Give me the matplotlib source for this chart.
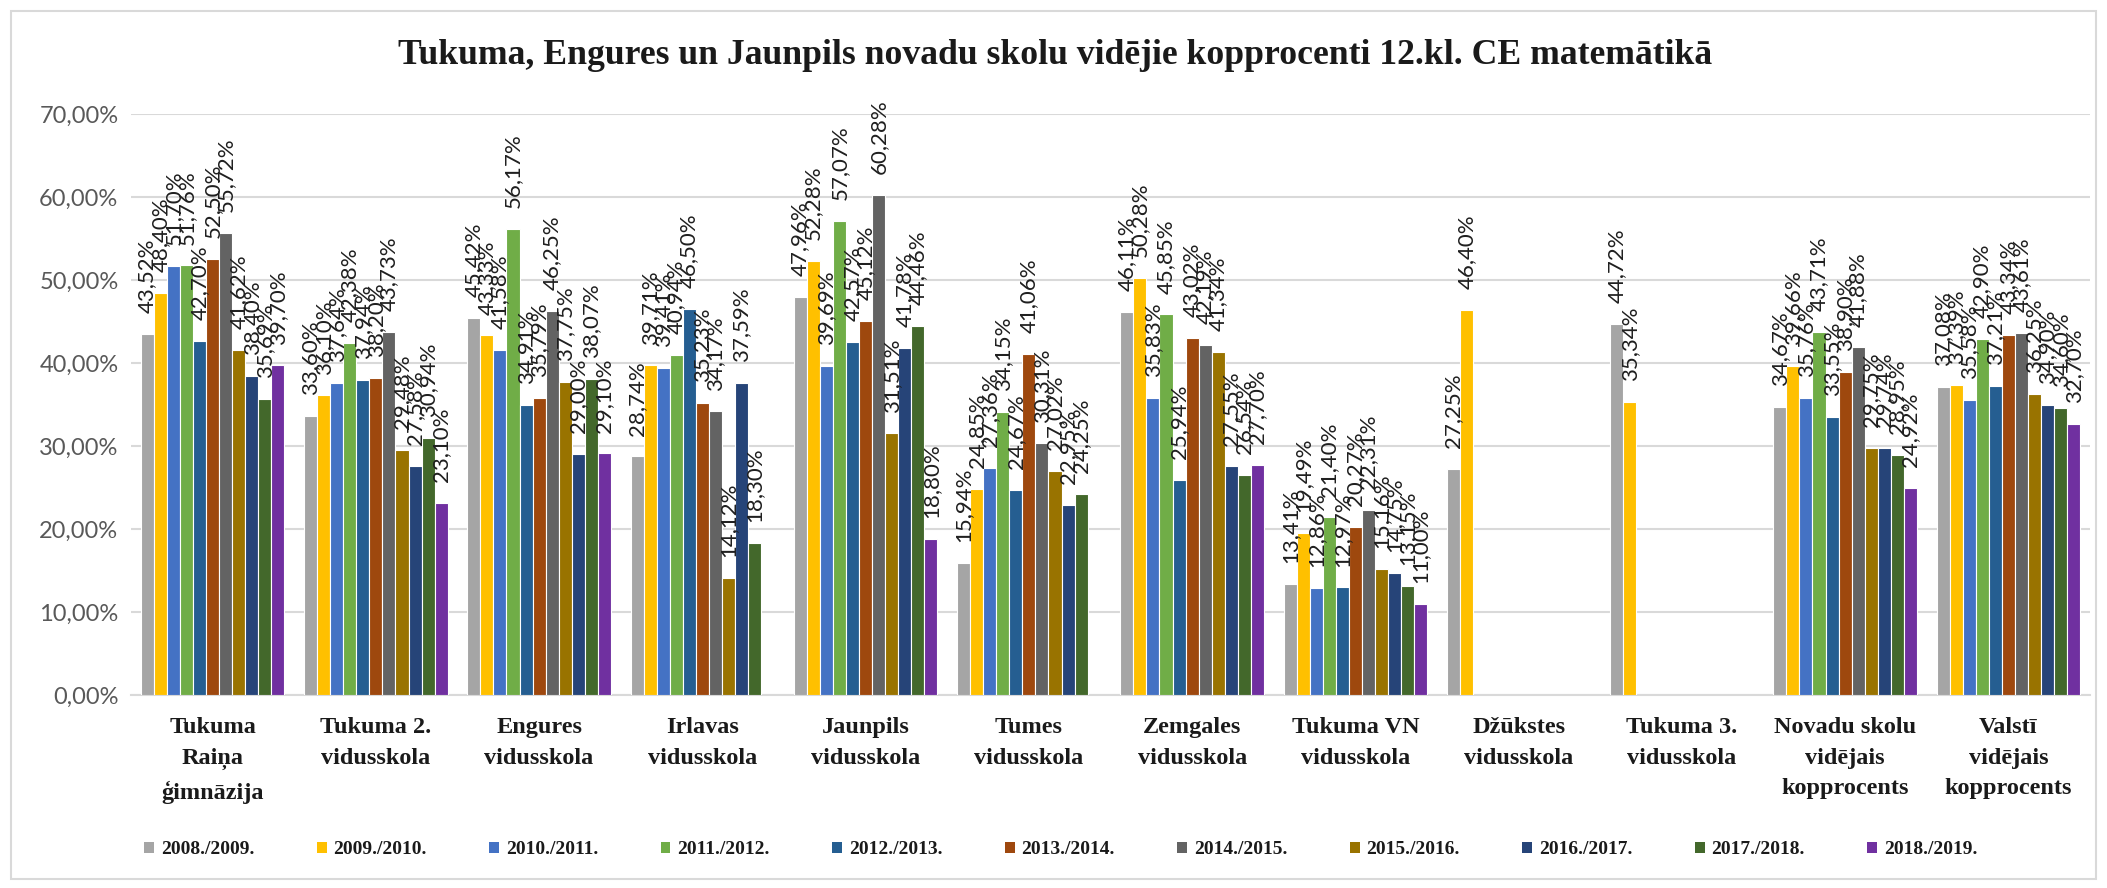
import numpy as np
import matplotlib
matplotlib.use('Agg')
import matplotlib.pyplot as plt
from matplotlib.patches import Rectangle, Patch
from matplotlib.ticker import FuncFormatter, MultipleLocator

nan = np.nan

title = "Tukuma, Engures un Jaunpils novadu skolu vidējie kopprocenti 12.kl. CE matemātikā"

categories = ["Tukuma\nRaiņa\nģimnāzija", "Tukuma 2.\nvidusskola", "Engures\nvidusskola",
              "Irlavas\nvidusskola", "Jaunpils\nvidusskola", "Tumes\nvidusskola",
              "Zemgales\nvidusskola", "Tukuma VN\nvidusskola", "Džūkstes\nvidusskola",
              "Tukuma 3.\nvidusskola", "Novadu skolu\nvidējais\nkopprocents",
              "Valstī\nvidējais\nkopprocents"]

years = ["2008./2009.", "2009./2010.", "2010./2011.", "2011./2012.", "2012./2013.",
         "2013./2014.", "2014./2015.", "2015./2016.", "2016./2017.", "2017./2018.",
         "2018./2019."]

v2008 = [43.52, 33.60, 45.42, 28.74, 47.96, 15.94, 46.11, 13.41, 27.25, 44.72, 34.67, 37.08]
v2009 = [48.40, 36.10, 43.33, 39.71, 52.28, 24.85, 50.28, 19.49, 46.40, 35.34, 39.66, 37.39]
v2010 = [51.70, 37.64, 41.58, 39.41, 39.69, 27.36, 35.83, 12.86, nan, nan, 35.76, 35.58]
v2011 = [51.76, 42.38, 56.17, 40.94, 57.07, 34.15, 45.85, 21.40, nan, nan, 43.71, 42.90]
v2012 = [42.70, 37.94, 34.91, 46.50, 42.57, 24.67, 25.94, 12.97, nan, nan, 33.55, 37.21]
v2013 = [52.50, 38.20, 35.79, 35.23, 45.12, 41.06, 43.02, 20.27, nan, nan, 38.90, 43.34]
v2014 = [55.72, 43.73, 46.25, 34.17, 60.28, 30.31, 42.19, 22.31, nan, nan, 41.88, 43.61]
v2015 = [41.62, 29.48, 37.75, 14.12, 31.51, 27.02, 41.34, 15.16, nan, nan, 29.75, 36.25]
v2016 = [38.40, 27.58, 29.00, 37.59, 41.78, 22.95, 27.55, 14.75, nan, nan, 29.74, 34.90]
v2017 = [35.69, 30.94, 38.07, 18.30, 44.46, 24.25, 26.54, 13.15, nan, nan, 28.95, 34.60]
v2018 = [39.70, 23.10, 29.10, nan, 18.80, nan, 27.70, 11.00, nan, nan, 24.92, 32.70]

series = [v2008, v2009, v2010, v2011, v2012, v2013, v2014, v2015, v2016, v2017, v2018]
colors = ["#A5A5A5", "#FFC000", "#4472C4", "#70AD47", "#255E91", "#9E480E",
          "#636363", "#997300", "#264478", "#43682B", "#7030A0"]

W, H = 2107, 888
fig = plt.figure(figsize=(W / 100, H / 100), dpi=100)
ax = fig.add_axes([131 / W, 193 / H, (2090 - 131) / W, (774 - 193) / H])

n = len(years)
bw = 0.08
x = np.arange(len(categories))
for i, (vals, col, lab) in enumerate(zip(series, colors, years)):
    offs = (i - (n - 1) / 2) * bw
    vals = np.array(vals, dtype=float)
    ax.bar(x + offs, vals, width=bw, color=col, edgecolor='white', linewidth=0.8,
           label=lab, zorder=3)
    for xi, v in zip(x + offs, vals):
        if np.isnan(v):
            continue
        ax.annotate(f"{v:.2f}%".replace('.', ','), (xi, v), xytext=(0, 15),
                    textcoords='offset points', rotation=90, ha='center', va='bottom',
                    fontsize=16, family='Lato', color='#1f1f1f', zorder=5,
                    annotation_clip=False)

ax.set_xlim(-0.5, len(categories) - 0.5)
ax.set_ylim(0, 70)
ax.yaxis.set_major_locator(MultipleLocator(10))
ax.yaxis.set_major_formatter(FuncFormatter(lambda v, p: f"{v:.2f}%".replace('.', ',')))
ax.yaxis.grid(True, color='#D9D9D9', linewidth=1.5, zorder=0)
ax.set_axisbelow(True)
for s in ['left', 'right', 'top']:
    ax.spines[s].set_visible(False)
ax.spines['bottom'].set_color('#D9D9D9')
ax.spines['bottom'].set_linewidth(1.5)
ax.tick_params(axis='both', length=0)
ax.tick_params(axis='y', pad=9, labelcolor='#595959', labelsize=17)
for t in ax.get_yticklabels():
    t.set_family('Lato')
ax.set_xticks(x)
ax.set_xticklabels(categories, family='Liberation Serif', weight='bold', fontsize=17.5,
                   color='#1a1a1a', linespacing=1.6)
ax.tick_params(axis='x', pad=16)

fig.text(0.5007, 0.937, title, ha='center', va='center', family='Liberation Serif',
         weight='bold', fontsize=25.7, color='#1a1a1a')

handles = [Patch(facecolor=c, edgecolor='none') for c in colors]
leg = fig.legend(handles, years, loc='center', bbox_to_anchor=(0.5035, 0.043), ncol=11,
                 frameon=False, prop={'family': 'Liberation Serif', 'weight': 'bold', 'size': 14},
                 handlelength=0.5, handleheight=0.5, handletextpad=0.35, columnspacing=3.22)
for t in leg.get_texts():
    t.set_color('#1a1a1a')

fig.patches.append(Rectangle((11 / W, 9 / H), (2096 - 11) / W, (877 - 9) / H,
                             transform=fig.transFigure, fill=False,
                             edgecolor='#D9D9D9', linewidth=1.5))

fig.savefig('out.png', dpi=100)
